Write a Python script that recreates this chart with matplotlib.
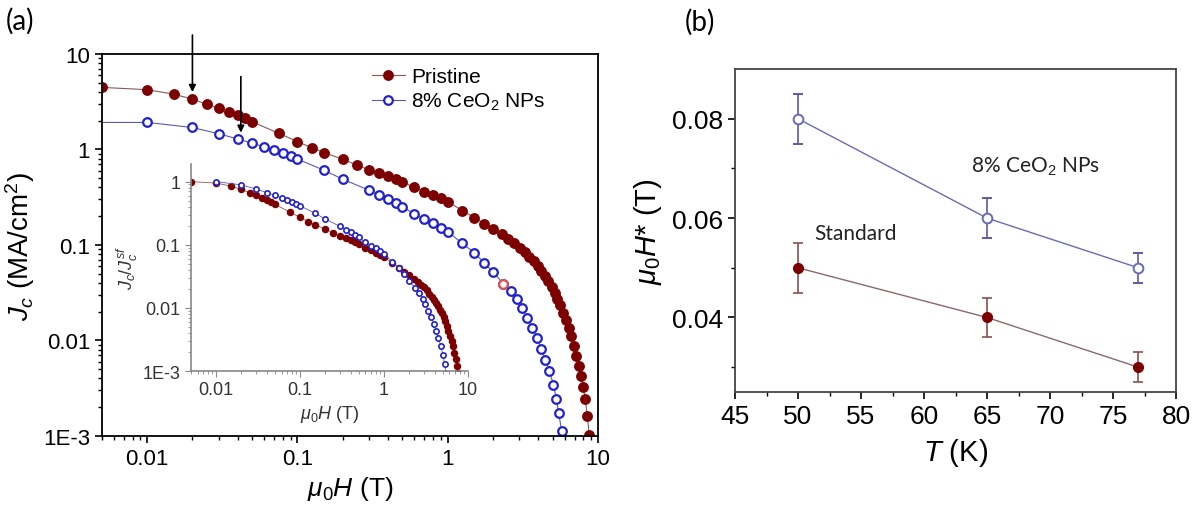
import numpy as np
import matplotlib
matplotlib.use('Agg')
import matplotlib.pyplot as plt

plt.rcParams['font.family'] = ['Liberation Sans', 'DejaVu Sans']
plt.rcParams['mathtext.fontset'] = 'custom'
plt.rcParams['mathtext.rm'] = 'Liberation Sans'
plt.rcParams['mathtext.it'] = 'Liberation Sans:italic'
plt.rcParams['mathtext.bf'] = 'Liberation Sans:bold'

# ---- panel (a): Jc(H) ----
h_pristine = [0.005, 0.01, 0.015, 0.02, 0.025, 0.03, 0.035, 0.04, 0.045, 0.05,
              0.075, 0.1, 0.125, 0.15, 0.2, 0.25, 0.3, 0.35, 0.4, 0.45, 0.5,
              0.6, 0.7, 0.8, 0.9, 1.0, 1.25, 1.5, 1.75, 2.0, 2.3, 2.53, 2.78,
              3.01, 3.25, 3.48, 3.73, 3.97, 4.2, 4.45, 4.68, 4.92, 5.14, 5.37,
              5.61, 5.86, 6.12, 6.4, 6.64, 6.9, 7.16, 7.44, 7.72, 7.96, 8.22,
              8.49, 8.75]
jc_pristine = [4.47, 4.23, 3.8, 3.37, 2.97, 2.71, 2.49, 2.27, 2.13, 1.95,
               1.48, 1.21, 1.04, 0.93, 0.79, 0.686, 0.61, 0.565, 0.53, 0.489, 0.458,
               0.40, 0.363, 0.335, 0.309, 0.285, 0.229, 0.194, 0.167, 0.146, 0.129,
               0.116, 0.104, 0.094, 0.0845, 0.0755, 0.0675, 0.060, 0.0534, 0.0473,
               0.0419, 0.0365, 0.0316, 0.0273, 0.0233, 0.0195, 0.0163, 0.0136,
               0.0111, 0.0087, 0.00685, 0.0054, 0.0042, 0.00327, 0.00245, 0.00163,
               0.00103]

h_ceo2 = [0.004, 0.01, 0.02, 0.03, 0.04, 0.05, 0.06, 0.07, 0.08, 0.09, 0.1,
          0.15, 0.2, 0.3, 0.35, 0.4, 0.45, 0.5, 0.6, 0.7, 0.8, 0.9, 1.0, 1.25,
          1.5, 1.75, 2.0, 2.35, 2.62, 2.88, 3.12, 3.36, 3.65, 3.93, 4.19, 4.46,
          4.75, 5.05, 5.28, 5.48, 5.73]
jc_ceo2 = [1.92, 1.92, 1.70, 1.46, 1.29, 1.16, 1.07, 0.977, 0.916, 0.859, 0.793,
           0.607, 0.489, 0.374, 0.332, 0.306, 0.278, 0.252, 0.21, 0.186, 0.169,
           0.152, 0.138, 0.104, 0.083, 0.0653, 0.0521, 0.0393, 0.0329, 0.0269,
           0.022, 0.0173, 0.0136, 0.0107, 0.00818, 0.00632, 0.00477, 0.00345,
           0.00245, 0.00174, 0.00112]
highlight_index = 27  # the one point drawn with a red outline

# arrows: field position, tip value, tail value
arrow_h = [0.02, 0.042]
arrow_tip = [4.0, 1.5]
arrow_tail = [15.8, 5.8]

main_yticks = [1e-3, 1e-2, 0.1, 1, 10]
main_ylabels = ['1E-3', '0.01', '0.1', '1', '10']
h_ticks = [0.01, 0.1, 1, 10]
h_labels = ['0.01', '0.1', '1', '10']
inset_yticks = [1e-3, 1e-2, 0.1, 1]
inset_ylabels = ['1E-3', '0.01', '0.1', '1']

# ---- panel (b): mu0H* vs T ----
temps = [50, 65, 77]
hstar_ceo2 = [0.080, 0.060, 0.050]
hstar_ceo2_err = [0.005, 0.004, 0.003]
hstar_std = [0.050, 0.040, 0.030]
hstar_std_err = [0.005, 0.004, 0.003]

red = '#7d0000'
red_line = '#8a5a5a'
blue = '#2222cc'
blue_line = '#5a5ab0'

fig = plt.figure(figsize=(12.01, 5.06), dpi=100)

ax = fig.add_axes([0.0849, 0.1364, 0.4130, 0.7549])
ax.plot(h_pristine, jc_pristine, '-', color=red_line, lw=0.8, marker='o', ms=6.8,
        mfc=red, mec=red, label='Pristine')
ax.plot(h_ceo2, jc_ceo2, '-', color=blue_line, lw=0.8, marker='o', ms=6.2,
        mfc='white', mec=blue, mew=1.6, label=r'8% CeO$_2$ NPs')
ax.plot([h_ceo2[highlight_index]], [jc_ceo2[highlight_index]], 'o', ms=6.2,
        mfc='white', mec='#e05050', mew=1.6)
ax.set_xscale('log')
ax.set_yscale('log')
ax.set_xlim(0.005, 10)
ax.set_ylim(1e-3, 10)
ax.set_xticks(h_ticks, h_labels)
ax.set_yticks(main_yticks, main_ylabels)
ax.tick_params(which='both', direction='out', labelsize=16, top=False, right=False)
ax.tick_params(which='major', length=5, width=1.2)
ax.tick_params(which='minor', length=3, width=1.0)
for s in ax.spines.values():
    s.set_linewidth(1.3)
ax.set_xlabel(r'$\mu_0H$ (T)', fontsize=19, labelpad=4)
ax.set_ylabel(r'$J_c$ (MA/cm$^2$)', fontsize=20, labelpad=4)
ax.legend(loc='upper left', bbox_to_anchor=(0.51, 1.01), frameon=False, fontsize=15,
          handlelength=1.6, handletextpad=0.3, borderpad=0.3, labelspacing=0.25)

for xh, yt, yb in zip(arrow_h, arrow_tip, arrow_tail):
    ax.annotate('', xy=(xh, yt), xytext=(xh, yb), annotation_clip=False,
                arrowprops=dict(arrowstyle='-|>', color='black', lw=1.2,
                                mutation_scale=10, shrinkA=0, shrinkB=0))

# inset (normalized to the lowest-field value)
ins = fig.add_axes([0.159, 0.2648, 0.2306, 0.4091])
ins.patch.set_alpha(0)
norm_p = np.array(jc_pristine) / jc_pristine[0]
norm_c = np.array(jc_ceo2) / jc_ceo2[0]
ins.plot(h_pristine, norm_p, '-', color=red_line, lw=0.6, marker='o', ms=4.4,
         mfc=red, mec=red)
ins.plot(h_ceo2[1:], norm_c[1:], '-', color=blue_line, lw=0.6, marker='o', ms=3.8,
         mfc='white', mec=blue, mew=1.2)
ins.set_xscale('log')
ins.set_yscale('log')
ins.set_xlim(0.005, 10)
ins.set_ylim(1e-3, 1.9)
ins.set_xticks(h_ticks, h_labels)
ins.set_yticks(inset_yticks, inset_ylabels)
ins.spines['top'].set_visible(False)
ins.spines['right'].set_visible(False)
for s in ('left', 'bottom'):
    ins.spines[s].set_color('#888888')
    ins.spines[s].set_linewidth(1.2)
ins.tick_params(which='both', direction='out', labelsize=13, colors='#888888',
                labelcolor='#333333')
ins.tick_params(which='major', length=4)
ins.tick_params(which='minor', length=2)
ins.set_xlabel(r'$\mu_0H$ (T)', fontsize=13, color='#333333', labelpad=3)
ins.set_ylabel(r'$J_c/J_c^{sf}$', fontsize=13, color='#333333', labelpad=2)

# panel (b)
bx = fig.add_axes([0.612, 0.2233, 0.3672, 0.6383])
bx.errorbar(temps, hstar_ceo2, yerr=hstar_ceo2_err, fmt='-o', color='#6a6ab8',
            lw=1.0, ms=7, mfc='white', mec='#6a6ab8', mew=1.4, ecolor='#5a5aa8',
            elinewidth=1.2, capsize=3.5, capthick=1.2)
bx.errorbar(temps, hstar_std, yerr=hstar_std_err, fmt='-o', color='#8a6a6a',
            lw=1.0, ms=7, mfc=red, mec=red, ecolor='#8a5050',
            elinewidth=1.2, capsize=3.5, capthick=1.2)
bx.set_xlim(45, 80)
bx.set_ylim(0.025, 0.09)
bx.set_xticks(range(45, 81, 5))
bx.set_xticks(np.arange(47.5, 80, 5), minor=True)
bx.set_yticks([0.04, 0.06, 0.08])
bx.set_yticks([0.03, 0.05, 0.07], minor=True)
bx.tick_params(which='both', direction='out', labelsize=19, top=False, right=False)
bx.tick_params(which='major', length=5, width=1.2)
bx.tick_params(which='minor', length=3, width=1.0)
for s in bx.spines.values():
    s.set_linewidth(1.3)
    s.set_color('#444444')
bx.set_xlabel(r'$T$ (K)', fontsize=21, labelpad=6)
bx.set_ylabel(r'$\mu_0H$* (T)', fontsize=21, labelpad=6)
bx.text(63.7, 0.0706, r'8% CeO$_2$ NPs', fontsize=15, family=['Lato', 'DejaVu Sans'],
        va='center', ha='left', color='#222222')
bx.text(51.3, 0.0571, 'Standard', fontsize=15, family=['Lato', 'DejaVu Sans'],
        va='center', ha='left', color='#222222')

fig.text(0.005, 0.958, '(a)', fontsize=20, family=['Lato', 'DejaVu Sans'], va='center')
fig.text(0.570, 0.955, '(b)', fontsize=20, family=['Lato', 'DejaVu Sans'], va='center')

fig.savefig('out.png', dpi=100)
